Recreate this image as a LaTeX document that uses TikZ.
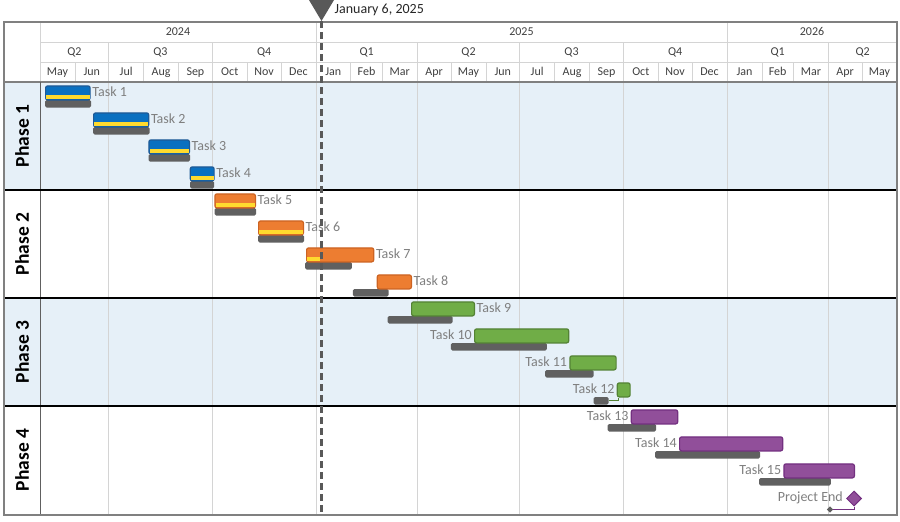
\documentclass[tikz,border=0pt]{standalone}
\usepackage{fontspec}
\setmainfont{Carlito}
\usetikzlibrary{shapes.geometric,positioning}

\definecolor{bandblue}{HTML}{E6F0F8}
\definecolor{gridgray}{HTML}{D4D4D4}
\definecolor{framegray}{HTML}{808080}
\definecolor{hdrtext}{HTML}{404040}
\definecolor{lbltext}{HTML}{7F7F7F}
\definecolor{basegray}{HTML}{606060}
\definecolor{todaygray}{HTML}{595959}
\definecolor{barblue}{HTML}{0A70C0}
\definecolor{edgeblue}{HTML}{1F5A96}
\definecolor{baryellow}{HTML}{FFDA2E}
\definecolor{barorange}{HTML}{ED7D31}
\definecolor{edgeorange}{HTML}{CC6322}
\definecolor{bargreen}{HTML}{70AD47}
\definecolor{edgegreen}{HTML}{548235}
\definecolor{barpurple}{HTML}{914F9A}
\definecolor{edgepurple}{HTML}{733080}

\begin{document}
\begin{tikzpicture}[x=1pt, y=-1pt,
    hdr/.style={text=hdrtext, font=\fontsize{12}{14}\selectfont, inner sep=0pt, text height=8pt, text depth=2.5pt},
    phaselbl/.style={rotate=90, font=\fontsize{19.5}{22}\selectfont\bfseries, inner sep=0pt},
    bar/.style={rectangle, rounded corners=2pt, line width=1.2pt, minimum height=14pt, inner sep=0pt, anchor=north west},
    bluebar/.style={bar, fill=barblue, draw=edgeblue},
    orangebar/.style={bar, fill=barorange, draw=edgeorange},
    greenbar/.style={bar, fill=bargreen, draw=edgegreen},
    purplebar/.style={bar, fill=barpurple, draw=edgepurple},
    basebar/.style={rectangle, rounded corners=1.5pt, fill=basegray, minimum height=7.5pt, inner sep=0pt, anchor=north west},
    progress/.style={fill=baryellow},
    tasklbl/.style={text=lbltext, font=\fontsize{14}{16}\selectfont, inner sep=0pt, text height=9pt, text depth=2.5pt},
    gridline/.style={draw=gridgray, line width=0.8pt},
    todayline/.style={draw=todaygray, line width=2.5pt, dash pattern=on 7pt off 4pt}]

\useasboundingbox (0,0) rectangle (900,522);

\fill[bandblue] (4,82) rectangle (897,190);
\fill[bandblue] (4,298) rectangle (897,406);

\draw[gridline] (40,22) -- (40,82);
\draw[gridline] (40,42) -- (897,42);
\draw[gridline] (40,62) -- (897,62);
\foreach \x in {315.9,727} \draw[gridline] (\x,22) -- (\x,42);

\foreach \a/\b/\y [count=\i] in {40/315.9/2024, 315.9/727/2025, 727/897/2026}
  \node[hdr] (year\i) at ({(\a+\b)/2},32.7) {\y};

\foreach \a/\b/\q [count=\i] in {40/108.7/Q2, 108.7/212.3/Q3, 212.3/315.9/Q4, 315.9/417.3/Q1, 417.3/519.7/Q2, 519.7/623.3/Q3, 623.3/727/Q4, 727/828.3/Q1, 828.3/897/Q2}
{
  \node[hdr] (qtr\i) at ({(\a+\b)/2},53.2) {\q};
  \draw[gridline] (\b,42) -- (\b,62);
}

\foreach \a/\b/\m [count=\i] in {40/74.9/May, 74.9/108.7/Jun, 108.7/143.6/Jul, 143.6/178.5/Aug, 178.5/212.3/Sep, 212.3/247.2/Oct, 247.2/281/Nov, 281/315.9/Dec, 315.9/350.8/Jan, 350.8/382.3/Feb, 382.3/417.3/Mar, 417.3/451/Apr, 451/485.9/May, 485.9/519.7/Jun, 519.7/554.6/Jul, 554.6/589.6/Aug, 589.6/623.3/Sep, 623.3/658.3/Oct, 658.3/692/Nov, 692/727/Dec, 727/761.9/Jan, 761.9/793.4/Feb, 793.4/828.3/Mar, 828.3/862.1/Apr, 862.1/897/May}
{
  \node[hdr] (mon\i) at ({(\a+\b)/2},73) {\m};
  \draw[gridline] (\b,62) -- (\b,82);
}

\foreach \x in {108.7,212.3,315.9,417.3,519.7,623.3,727,828.3}
  \draw[gridline] (\x,82) -- (\x,515);

\draw[framegray, line width=1.2pt] (4,82) -- (897,82);
\draw[basegray, line width=1pt] (40,82) -- (40,515);
\foreach \y in {190,298,406}
  \draw[black, line width=2pt] (4,\y) -- (897,\y);

\node[phaselbl] (ph1) at (22,136) {Phase 1};
\node[phaselbl] (ph2) at (22,244) {Phase 2};
\node[phaselbl] (ph3) at (22,352) {Phase 3};
\node[phaselbl] (ph4) at (22,460) {Phase 4};

\node[basebar, minimum width=46pt] (b1) at (45,99.8) {};
\node[basebar, minimum width=56.5pt] (b2) at (93,126.8) {};
\node[basebar, minimum width=41.7pt] (b3) at (148.3,153.8) {};
\node[basebar, minimum width=24pt] (b4) at (190,180.8) {};
\node[basebar, minimum width=41.7pt] (b5) at (214.3,207.8) {};
\node[basebar, minimum width=46pt] (b6) at (258,234.8) {};
\node[basebar, minimum width=46.7pt] (b7) at (305,261.8) {};
\node[basebar, minimum width=35.6pt] (b8) at (352.7,288.8) {};
\node[basebar, minimum width=65pt] (b9) at (387.3,315.8) {};
\node[basebar, minimum width=96pt] (b10) at (450.7,342.8) {};
\node[basebar, minimum width=48.3pt] (b11) at (545,369.8) {};
\node[basebar, minimum width=15pt] (b12) at (593.3,396.8) {};
\node[basebar, minimum width=48.7pt] (b13) at (607.3,423.8) {};
\node[basebar, minimum width=105pt] (b14) at (655,450.8) {};
\node[basebar, minimum width=71.7pt] (b15) at (759,477.8) {};

\node[bluebar, minimum width=44.5pt] (t1) at (45,85.3) {};
\node[bluebar, minimum width=55.1pt] (t2) at (93,112.3) {};
\node[bluebar, minimum width=40.5pt] (t3) at (148.3,139.3) {};
\node[bluebar, minimum width=23.8pt] (t4) at (189.7,166.3) {};
\node[orangebar, minimum width=40.5pt] (t5) at (214.3,193.3) {};
\node[orangebar, minimum width=44.8pt] (t6) at (258,220.3) {};
\node[orangebar, minimum width=67.1pt] (t7) at (306,247.3) {};
\node[orangebar, minimum width=34.1pt] (t8) at (376.7,274.3) {};
\node[greenbar, minimum width=62.8pt] (t9) at (411,301.3) {};
\node[greenbar, minimum width=94.1pt] (t10) at (474,328.3) {};
\node[greenbar, minimum width=46.2pt] (t11) at (569.3,355.3) {};
\node[greenbar, minimum width=12.8pt] (t12) at (616.7,382.3) {};
\node[purplebar, minimum width=46.4pt] (t13) at (630.7,409.3) {};
\node[purplebar, minimum width=103.1pt] (t14) at (679,436.3) {};
\node[purplebar, minimum width=70.5pt] (t15) at (783.3,463.3) {};

\foreach \t in {t1,t2,t3,t4,t5,t6}
  \fill[progress] ([xshift=1.2pt,yshift=-9.6pt]\t.north west) rectangle ([xshift=-1.2pt,yshift=1.3pt]\t.south east);
\fill[progress] ([xshift=1.2pt,yshift=-9.6pt]t7.north west) rectangle ([xshift=14pt,yshift=1.3pt]t7.south west);

\node[tasklbl, right=1.5pt of t1] (n1) {Task 1};
\node[tasklbl, right=1.5pt of t2] (n2) {Task 2};
\node[tasklbl, right=1.5pt of t3] (n3) {Task 3};
\node[tasklbl, right=1.5pt of t4] (n4) {Task 4};
\node[tasklbl, right=1.5pt of t5] (n5) {Task 5};
\node[tasklbl, right=1.5pt of t6] (n6) {Task 6};
\node[tasklbl, right=1.5pt of t7] (n7) {Task 7};
\node[tasklbl, right=1.5pt of t8] (n8) {Task 8};
\node[tasklbl, right=1.5pt of t9] (n9) {Task 9};
\node[tasklbl, left=2pt of t10] (n10) {Task 10};
\node[tasklbl, left=2pt of t11] (n11) {Task 11};
\node[tasklbl, left=2pt of t12] (n12) {Task 12};
\node[tasklbl, left=2pt of t13] (n13) {Task 13};
\node[tasklbl, left=2pt of t14] (n14) {Task 14};
\node[tasklbl, left=2pt of t15] (n15) {Task 15};

\draw[edgegreen, line width=1pt] (b12.east) -| ([xshift=2pt]t12.south west);

\node[diamond, fill=barpurple, draw=edgepurple, line width=1pt, minimum size=15pt, inner sep=0pt] (pe) at (854,498.5) {};
\node[diamond, fill=basegray, minimum size=6.5pt, inner sep=0pt] (pg) at (830,509.5) {};
\draw[edgepurple, line width=1pt] (pg.east) -| (pe.south);
\node[tasklbl, left=3pt of pe] (npe) {Project End};

\draw[framegray, line width=1.5pt] (4,22) rectangle (897,515);

\coordinate (nowtop) at (321.5,21);
\coordinate (nowbot) at (321.5,515);
\draw[todayline] (nowtop) -- (nowbot);
\fill[todaygray] (309,0) -- (334,0) -- (nowtop) -- cycle;
\node[anchor=west, inner sep=0pt, text=black!85, font=\fontsize{14}{16}\selectfont] (nowlbl) at (334.5,10) {January 6, 2025};

\end{tikzpicture}
\end{document}
